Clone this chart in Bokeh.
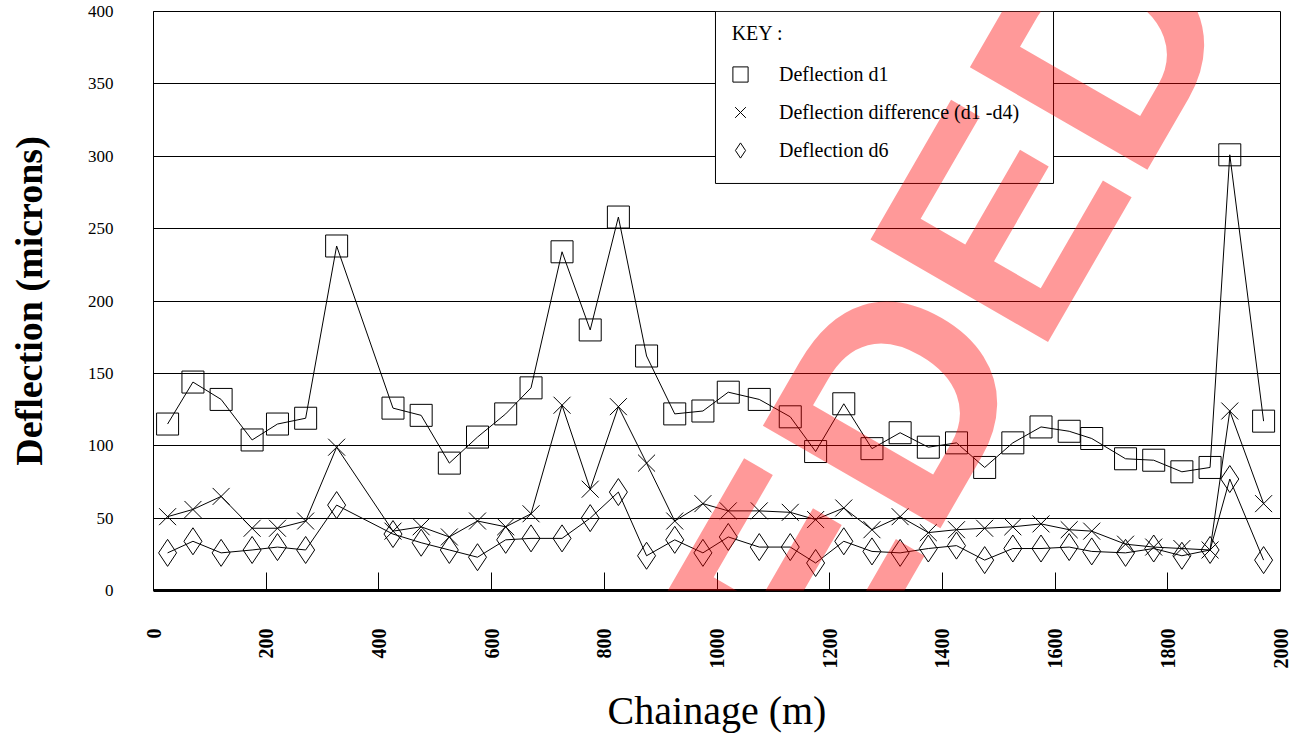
import math
from bokeh.plotting import figure
from bokeh.models import (Range1d, FixedTicker, Legend, LegendItem, Label,
                          BoxAnnotation, ColumnDataSource)
from bokeh.embed import file_html
from bokeh.resources import INLINE

# ---- data ----
chainage = [25, 70, 120, 175, 220, 270, 325, 425, 475, 525, 575, 625, 670,
            725, 775, 825, 875, 925, 975, 1020, 1075, 1130, 1175, 1225, 1275,
            1325, 1375, 1425, 1475, 1525, 1575, 1625, 1665, 1725, 1775, 1825,
            1875, 1910, 1970]
d1 = [115, 144, 132, 104, 115, 119, 238, 126, 121, 88, 106, 122, 140, 234,
      180, 258, 162, 122, 124, 137, 132, 120, 96, 129, 98, 109, 99, 102, 85,
      102, 113, 110, 105, 91, 90, 82, 85, 301, 117]
diff_d1_d4 = [51, 56, 65, 43, 43, 48, 99, 41, 44, 37, 48, 44, 53, 128, 70,
              127, 88, 48, 60, 55, 55, 54, 49, 57, 42, 51, 40, 42, 43, 44, 46,
              42, 41, 32, 30, 29, 28, 124, 60]
d6 = [26, 34, 26, 28, 30, 28, 59, 39, 33, 28, 23, 35, 36, 36, 50, 68, 24, 35,
      26, 37, 30, 30, 19, 34, 27, 26, 29, 31, 21, 29, 29, 30, 27, 26, 29, 24,
      28, 77, 21]
x_ticks = [0, 200, 400, 600, 800, 1000, 1200, 1400, 1600, 1800, 2000]
y_ticks = [0, 50, 100, 150, 200, 250, 300, 350, 400]
labels = ["Deflection d1", "Deflection difference (d1 -d4)", "Deflection d6"]
key_title = "KEY :"
watermark = "SUPERSEDED"

SERIF = "Liberation Serif"

src = ColumnDataSource(dict(x=chainage, d1=d1, diff=diff_d1_d4, d6=d6))

p = figure(width=1297, height=736, x_range=Range1d(0, 2000),
           y_range=Range1d(0, 400), output_backend="svg",
           toolbar_location=None, min_border_left=153, min_border_right=17,
           min_border_top=11, min_border_bottom=146)
p.background_fill_color = "white"
p.border_fill_color = "white"
p.outline_line_color = "black"
p.outline_line_width = 1

# grid
p.xgrid.visible = False
p.ygrid.ticker = FixedTicker(ticks=y_ticks)
p.ygrid.grid_line_color = "black"
p.ygrid.grid_line_width = 1
p.ygrid.grid_line_alpha = 1

# x axis
p.xaxis.ticker = FixedTicker(ticks=x_ticks)
p.xaxis.axis_line_width = 3
p.xaxis.axis_line_color = "black"
p.xaxis.major_tick_in = 18
p.xaxis.major_tick_out = 0
p.xaxis.minor_tick_line_color = None
p.xaxis.major_tick_line_color = "black"
p.xaxis.major_label_orientation = math.pi / 2
p.xaxis.major_label_standoff = 38
p.xaxis.major_label_text_font = SERIF
p.xaxis.major_label_text_font_style = "bold"
p.xaxis.major_label_text_font_size = "20px"
p.xaxis.major_label_text_color = "black"
p.xaxis.axis_label = "Chainage (m)"
p.xaxis.axis_label_text_font = SERIF
p.xaxis.axis_label_text_font_style = "normal"
p.xaxis.axis_label_text_font_size = "40px"
p.xaxis.axis_label_text_color = "black"
p.xaxis.axis_label_standoff = 16

# y axis
p.yaxis.ticker = FixedTicker(ticks=y_ticks)
p.yaxis.axis_line_color = "black"
p.yaxis.axis_line_width = 1
p.yaxis.major_tick_in = 0
p.yaxis.major_tick_out = 0
p.yaxis.minor_tick_line_color = None
p.yaxis.major_label_standoff = 40
p.yaxis.major_label_text_font = SERIF
p.yaxis.major_label_text_font_size = "17px"
p.yaxis.major_label_text_color = "black"
p.yaxis.axis_label = "Deflection (microns)"
p.yaxis.axis_label_text_font = SERIF
p.yaxis.axis_label_text_font_style = "bold"
p.yaxis.axis_label_text_font_size = "38px"
p.yaxis.axis_label_text_color = "black"
p.yaxis.axis_label_standoff = 35

# series
p.line("x", "d1", source=src, line_color="black", line_width=1)
p.line("x", "diff", source=src, line_color="black", line_width=1)
p.line("x", "d6", source=src, line_color="black", line_width=1)
r1 = p.scatter("x", "d1", source=src, marker="square", size=22,
               fill_color=None, line_color="black", line_width=1)
r2 = p.scatter("x", "diff", source=src, marker="x", size=24,
               line_color="black", line_width=1)
r3 = p.scatter("x", "d6", source=src, marker="diamond", size=27,
               fill_color=None, line_color="black", line_width=1)

# key box
box = BoxAnnotation(left=997.3, right=1597.2, bottom=281.2, top=400,
                    fill_color="white", fill_alpha=1,
                    line_color="black", line_width=1, line_alpha=1)
p.add_layout(box)

legend = Legend(items=[LegendItem(label=labels[0], renderers=[r1]),
                       LegendItem(label=labels[1], renderers=[r2]),
                       LegendItem(label=labels[2], renderers=[r3])],
                location=(568, 421), padding=0, spacing=0, margin=0,
                glyph_width=38, glyph_height=38, label_height=38,
                label_standoff=20, label_text_font=SERIF,
                label_text_font_size="20px", label_text_color="black",
                background_fill_alpha=0, border_line_alpha=0)
p.add_layout(legend, "center")

key = Label(x=1026, y=385.3, text=key_title, text_font=SERIF,
            text_font_size="20px", text_color="black",
            text_baseline="middle", text_align="left")
p.add_layout(key)

# watermark (font size avoids the "N00" form that the svg font parser reads as a weight)
wm = Label(x=1778, y=443.2, text=watermark, angle=60, angle_units="deg",
           text_align="right", text_baseline="middle",
           text_font="Liberation Sans", text_font_style="bold",
           text_font_size="298px", text_color="red", text_alpha=0.4)
p.add_layout(wm)

open("out.html", "w").write(file_html(p, INLINE))
